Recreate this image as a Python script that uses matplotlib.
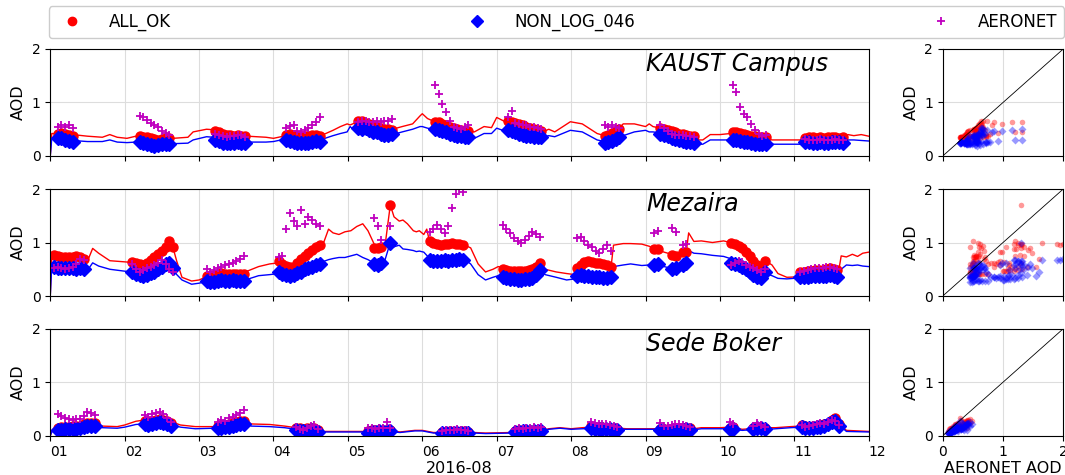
import numpy as np
import matplotlib
matplotlib.use('Agg')
import matplotlib.pyplot as plt
import matplotlib.dates as mdates
from matplotlib.lines import Line2D

# days since 2016-07-31 00:00 (1.0 = Aug 1 00:00)
STEP = 0.05  # spacing of obs within a segment (days)
base = mdates.datestr2num('2016-07-31')

stations = ["KAUST Campus", "Mezaira", "Sede Boker"]

# ---------------- KAUST Campus ----------------
kaust_line_t = [1.00, 1.02, 1.10, 1.30, 1.50, 1.70, 1.80, 1.90, 2.03, 2.15,
                2.30, 2.45, 2.55, 2.65, 2.85, 2.92, 3.10, 3.20, 3.40, 3.65,
                3.90, 4.00, 4.10, 4.40, 4.67, 4.80, 4.90, 4.99, 5.03, 5.10,
                5.30, 5.60, 5.73, 5.87, 5.97, 6.00, 6.07, 6.15, 6.40, 6.70,
                6.83, 6.93, 7.00, 7.10, 7.40, 7.62, 7.70, 7.78, 7.99, 8.15,
                8.35, 8.45, 8.60, 8.70, 8.85, 9.00, 9.05, 9.10, 9.20, 9.45,
                9.68, 9.77, 9.87, 10.00, 10.14, 10.40, 10.70, 11.15, 11.40, 11.65,
                11.72, 11.80, 11.90, 12.00]
kaust_red_line = [0.00, 0.42, 0.42, 0.40, 0.37, 0.35, 0.40, 0.35, 0.33, 0.37,
                  0.35, 0.31, 0.33, 0.33, 0.35, 0.45, 0.50, 0.49, 0.43, 0.37,
                  0.35, 0.33, 0.36, 0.38, 0.40, 0.48, 0.55, 0.60, 0.58, 0.62,
                  0.58, 0.50, 0.55, 0.60, 0.75, 0.79, 0.70, 0.65, 0.55, 0.45,
                  0.55, 0.53, 0.72, 0.65, 0.57, 0.45, 0.50, 0.45, 0.64, 0.60,
                  0.42, 0.38, 0.45, 0.60, 0.60, 0.55, 0.60, 0.55, 0.52, 0.44,
                  0.30, 0.30, 0.40, 0.40, 0.42, 0.38, 0.30, 0.30, 0.31, 0.30,
                  0.40, 0.38, 0.40, 0.37]
kaust_blue_line = [0.00, 0.33, 0.30, 0.29, 0.27, 0.27, 0.30, 0.26, 0.25, 0.26,
                   0.24, 0.22, 0.23, 0.23, 0.24, 0.30, 0.36, 0.35, 0.30, 0.26,
                   0.26, 0.27, 0.30, 0.27, 0.32, 0.38, 0.42, 0.45, 0.55, 0.46,
                   0.46, 0.40, 0.45, 0.50, 0.55, 0.55, 0.52, 0.50, 0.42, 0.33,
                   0.42, 0.42, 0.52, 0.47, 0.40, 0.35, 0.38, 0.36, 0.48, 0.45,
                   0.30, 0.27, 0.33, 0.38, 0.45, 0.48, 0.45, 0.45, 0.43, 0.33,
                   0.22, 0.22, 0.30, 0.30, 0.30, 0.26, 0.22, 0.22, 0.24, 0.23,
                   0.30, 0.30, 0.29, 0.28]
kaust_seg_start = [1.10, 2.20, 3.22, 4.17, 5.14, 6.17, 7.15, 8.45, 9.20, 10.17, 11.15]
kaust_red_obs = [
    [0.42, 0.43, 0.42, 0.40, 0.38],
    [0.37, 0.36, 0.35, 0.33, 0.31, 0.30, 0.32, 0.34, 0.33],
    [0.46, 0.44, 0.42, 0.40, 0.39, 0.38, 0.39, 0.38, 0.37],
    [0.40, 0.41, 0.40, 0.38, 0.37, 0.37, 0.38, 0.39, 0.40, 0.38],
    [0.66, 0.65, 0.62, 0.60, 0.58, 0.55, 0.52, 0.50, 0.50, 0.48],
    [0.64, 0.63, 0.60, 0.57, 0.55, 0.52, 0.50, 0.48, 0.47, 0.47],
    [0.66, 0.64, 0.62, 0.60, 0.57, 0.55, 0.52, 0.50, 0.48, 0.46],
    [0.38, 0.40, 0.43, 0.47, 0.50],
    [0.52, 0.50, 0.48, 0.46, 0.44, 0.42, 0.42, 0.40, 0.38, 0.37],
    [0.45, 0.44, 0.43, 0.42, 0.40, 0.38, 0.37, 0.36, 0.35, 0.35],
    [0.34, 0.35, 0.35, 0.34, 0.35, 0.34, 0.35, 0.36, 0.35, 0.34, 0.35],
]
kaust_blue_obs = [
    [0.33, 0.34, 0.30, 0.28, 0.27],
    [0.27, 0.24, 0.22, 0.20, 0.19, 0.20, 0.22, 0.23, 0.22],
    [0.30, 0.28, 0.25, 0.24, 0.24, 0.25, 0.26, 0.25, 0.24],
    [0.30, 0.28, 0.26, 0.25, 0.24, 0.24, 0.25, 0.26, 0.28, 0.27],
    [0.52, 0.50, 0.52, 0.48, 0.45, 0.45, 0.42, 0.40, 0.40, 0.42],
    [0.50, 0.48, 0.46, 0.44, 0.42, 0.40, 0.38, 0.37, 0.36, 0.36],
    [0.48, 0.46, 0.44, 0.42, 0.40, 0.38, 0.37, 0.36, 0.36, 0.35],
    [0.25, 0.26, 0.28, 0.32, 0.35],
    [0.42, 0.40, 0.37, 0.34, 0.32, 0.30, 0.28, 0.27, 0.26, 0.25],
    [0.30, 0.29, 0.28, 0.27, 0.26, 0.24, 0.23, 0.22, 0.22, 0.22],
    [0.27, 0.26, 0.25, 0.25, 0.26, 0.25, 0.25, 0.26, 0.27, 0.26, 0.25],
]
kaust_aer_obs = [
    [0.55, 0.57, 0.54, 0.58, 0.53],
    [0.75, 0.72, 0.67, 0.62, 0.57, 0.54, 0.46, 0.43, 0.40],
    [0.42, 0.40, 0.38, 0.36, 0.37, 0.38, 0.40, 0.39, 0.36],
    [0.52, 0.56, 0.57, 0.46, 0.45, 0.48, 0.52, 0.57, 0.64, 0.72],
    [0.64, 0.66, 0.65, 0.64, 0.63, 0.66, 0.64, 0.65, 0.66, 0.70],
    [1.32, 1.15, 0.98, 0.82, 0.65, 0.55, 0.52, 0.50, 0.55, 0.58],
    [0.73, 0.85, 0.62, 0.60, 0.58, 0.57, 0.55, 0.55, 0.52, 0.50],
    [0.57, 0.55, 0.57, 0.55, 0.52],
    [0.58, 0.52, 0.46, 0.42, 0.40, 0.40, 0.39, 0.38, 0.37, 0.35],
    [1.32, 1.20, 0.92, 0.78, 0.72, 0.60, 0.48, 0.42, 0.38, 0.40],
    [0.32, 0.30, 0.30, 0.29, 0.31, 0.30, 0.29, 0.30, 0.31, 0.30, 0.29],
]

# ---------------- Mezaira ----------------
mez_line_t = [1.00, 1.02, 1.05, 1.45, 1.52, 1.57, 1.65, 1.80, 2.08, 2.20,
              2.35, 2.50, 2.60, 2.65, 2.70, 2.77, 2.90, 3.00, 3.10, 3.40,
              3.62, 3.80, 3.95, 4.07, 4.25, 4.45, 4.62, 4.68, 4.74, 4.80,
              4.88, 4.96, 5.04, 5.12, 5.20, 5.27, 5.37, 5.45, 5.50, 5.57,
              5.62, 5.69, 5.74, 5.80, 5.88, 5.92, 5.96, 6.02, 6.06, 6.10,
              6.35, 6.57, 6.65, 6.75, 6.85, 6.95, 7.02, 7.30, 7.58, 7.65,
              7.71, 7.80, 7.94, 8.05, 8.30, 8.54, 8.57, 8.70, 8.80, 8.95,
              9.05, 9.12, 9.25, 9.40, 9.50, 9.55, 9.58, 9.65, 9.75, 9.90,
              10.05, 10.14, 10.30, 10.45, 10.55, 10.62, 10.70, 10.78, 10.90, 11.08,
              11.35, 11.60, 11.63, 11.70, 11.78, 11.85, 11.92, 12.00]
mez_red_line = [0.00, 0.81, 0.76, 0.72, 0.72, 0.89, 0.80, 0.66, 0.63, 0.60,
                0.70, 0.85, 1.00, 0.90, 0.65, 0.35, 0.28, 0.30, 0.36, 0.42,
                0.45, 0.55, 0.60, 0.62, 0.55, 0.72, 0.95, 1.02, 1.25, 1.18,
                1.15, 1.20, 1.22, 1.30, 1.35, 1.22, 0.92, 0.90, 0.95, 1.70,
                1.48, 1.40, 1.42, 1.35, 1.22, 1.20, 1.22, 1.15, 1.25, 1.00,
                0.98, 0.95, 0.90, 0.60, 0.45, 0.50, 0.55, 0.48, 0.62, 0.50,
                0.48, 0.45, 0.42, 0.40, 0.62, 0.58, 0.95, 0.98, 0.98, 0.97,
                0.93, 0.88, 0.82, 0.76, 0.83, 0.85, 1.18, 1.02, 1.03, 1.00,
                1.03, 1.00, 0.90, 0.70, 0.58, 0.65, 0.58, 0.42, 0.35, 0.36,
                0.46, 0.50, 0.75, 0.73, 0.78, 0.74, 0.80, 0.82]
mez_blue_line = [0.00, 0.58, 0.55, 0.50, 0.52, 0.62, 0.56, 0.50, 0.45, 0.40,
                 0.43, 0.55, 0.62, 0.50, 0.40, 0.30, 0.22, 0.24, 0.27, 0.28,
                 0.30, 0.38, 0.40, 0.42, 0.40, 0.45, 0.60, 0.65, 0.68, 0.70,
                 0.72, 0.72, 0.75, 0.78, 0.72, 0.68, 0.60, 0.60, 0.68, 1.00,
                 0.92, 0.95, 0.88, 0.87, 0.85, 0.83, 0.84, 0.82, 0.76, 0.70,
                 0.68, 0.68, 0.60, 0.40, 0.30, 0.35, 0.38, 0.32, 0.45, 0.40,
                 0.38, 0.35, 0.30, 0.32, 0.38, 0.36, 0.55, 0.58, 0.60, 0.57,
                 0.58, 0.57, 0.55, 0.50, 0.58, 0.60, 0.85, 0.80, 0.79, 0.76,
                 0.74, 0.70, 0.55, 0.45, 0.38, 0.42, 0.38, 0.33, 0.32, 0.34,
                 0.37, 0.38, 0.50, 0.58, 0.57, 0.58, 0.56, 0.55]
mez_seg_start = [1.05, 2.10, 3.10, 4.07, 5.35, 5.57, 6.10, 7.08, 8.08, 9.12, 9.36, 9.50, 10.15, 11.08]
mez_red_obs = [
    [0.76, 0.74, 0.73, 0.72, 0.72, 0.73, 0.74, 0.72, 0.70],
    [0.63, 0.62, 0.60, 0.58, 0.62, 0.68, 0.72, 0.78, 0.85, 0.92, 1.02, 0.92],
    [0.38, 0.38, 0.40, 0.42, 0.43, 0.42, 0.42, 0.41, 0.42, 0.42, 0.41],
    [0.65, 0.60, 0.56, 0.54, 0.55, 0.62, 0.70, 0.75, 0.80, 0.86, 0.92, 0.96],
    [0.90, 0.90, 0.92],
    [1.70],
    [1.02, 1.00, 0.97, 0.96, 0.97, 0.98, 0.99, 0.98, 0.97, 0.96],
    [0.50, 0.48, 0.47, 0.46, 0.46, 0.47, 0.47, 0.48, 0.50, 0.55, 0.62],
    [0.52, 0.58, 0.63, 0.65, 0.63, 0.62, 0.61, 0.60, 0.58, 0.55],
    [0.88, 0.88],
    [0.76, 0.75],
    [0.82, 0.83],
    [1.00, 0.98, 0.94, 0.90, 0.82, 0.75, 0.65, 0.58, 0.55, 0.66],
    [0.45, 0.45, 0.46, 0.47, 0.48, 0.48, 0.49, 0.50, 0.52, 0.50, 0.48],
]
mez_blue_obs = [
    [0.55, 0.53, 0.52, 0.52, 0.53, 0.52, 0.50, 0.53, 0.50],
    [0.45, 0.42, 0.40, 0.38, 0.40, 0.43, 0.45, 0.50, 0.55, 0.60, 0.62, 0.52],
    [0.28, 0.27, 0.27, 0.29, 0.30, 0.29, 0.28, 0.30, 0.29, 0.28, 0.29],
    [0.45, 0.42, 0.40, 0.38, 0.40, 0.43, 0.45, 0.50, 0.52, 0.55, 0.58, 0.60],
    [0.60, 0.58, 0.62],
    [1.00],
    [0.68, 0.66, 0.65, 0.66, 0.67, 0.66, 0.67, 0.68, 0.70, 0.67],
    [0.36, 0.34, 0.32, 0.31, 0.30, 0.30, 0.31, 0.32, 0.34, 0.40, 0.48],
    [0.38, 0.40, 0.38, 0.37, 0.36, 0.36, 0.35, 0.34, 0.33, 0.35],
    [0.58, 0.59],
    [0.50, 0.52],
    [0.58, 0.62],
    [0.62, 0.60, 0.58, 0.55, 0.50, 0.45, 0.40, 0.35, 0.33, 0.45],
    [0.35, 0.36, 0.36, 0.37, 0.37, 0.38, 0.38, 0.38, 0.40, 0.38, 0.36],
]
mez_aer_obs = [
    [0.52, 0.55, 0.52, 0.50, 0.53, 0.55, 0.60, 0.70, 0.68],
    [0.60, 0.50, 0.45, 0.48, 0.52, 0.55, 0.58, 0.62, 0.68, 0.60, 0.50, 0.45],
    [0.50, 0.45, 0.48, 0.52, 0.55, 0.58, 0.60, 0.62, 0.65, 0.70, 0.75],
    [0.72, 0.75, 1.25, 1.55, 1.40, 1.30, 1.60, 1.35, 1.48, 1.42, 1.35, 1.30],
    [1.45, 1.30, 1.05],
    [1.30],
    [1.20, 1.25, 1.32, 1.25, 1.18, 1.30, 1.65, 1.90, 2.00, 1.95],
    [1.32, 1.25, 1.18, 1.08, 1.02, 1.00, 1.05, 1.12, 1.20, 1.15, 1.10],
    [1.08, 1.10, 1.02, 0.95, 0.92, 0.85, 0.80, 0.88, 0.95, 0.85],
    [1.18, 1.22],
    [1.28, 1.20],
    [0.95, 0.98],
    [0.58, 0.62, 0.66, 0.64, 0.58, 0.55, 0.52, 0.48, 0.45, 0.50],
    [0.45, 0.46, 0.48, 0.50, 0.52, 0.52, 0.53, 0.55, 0.54, 0.52, 0.50],
]

# ---------------- Sede Boker ----------------
sede_line_t = [1.00, 1.03, 1.10, 1.40, 1.60, 1.70, 1.90, 2.00, 2.15, 2.25,
               2.45, 2.65, 2.75, 2.95, 3.20, 3.45, 3.65, 3.70, 3.95, 4.15,
               4.30, 4.55, 4.65, 5.00, 5.25, 5.55, 5.70, 5.90, 6.00, 6.15,
               6.45, 6.70, 6.85, 7.20, 7.45, 7.62, 7.70, 7.85, 8.00, 8.15,
               8.40, 8.65, 8.75, 9.10, 9.40, 9.65, 9.75, 10.00, 10.15, 10.30,
               10.50, 10.65, 10.75, 10.95, 11.08, 11.30, 11.45, 11.52, 11.62, 11.70,
               12.00]
sede_red_line = [0.00, 0.12, 0.14, 0.18, 0.24, 0.18, 0.17, 0.20, 0.27, 0.29,
                 0.30, 0.25, 0.20, 0.17, 0.17, 0.22, 0.27, 0.22, 0.21, 0.18,
                 0.15, 0.14, 0.08, 0.08, 0.08, 0.10, 0.07, 0.10, 0.10, 0.06,
                 0.06, 0.06, 0.05, 0.06, 0.08, 0.10, 0.13, 0.15, 0.13, 0.15,
                 0.17, 0.14, 0.13, 0.13, 0.14, 0.13, 0.15, 0.15, 0.16, 0.12,
                 0.14, 0.15, 0.15, 0.17, 0.18, 0.20, 0.22, 0.33, 0.20, 0.10,
                 0.08]
sede_blue_line = [0.00, 0.10, 0.11, 0.14, 0.19, 0.15, 0.14, 0.16, 0.21, 0.22,
                  0.24, 0.20, 0.16, 0.13, 0.14, 0.18, 0.22, 0.18, 0.17, 0.15,
                  0.12, 0.10, 0.07, 0.07, 0.07, 0.08, 0.06, 0.09, 0.09, 0.05,
                  0.05, 0.05, 0.04, 0.05, 0.07, 0.09, 0.12, 0.14, 0.12, 0.13,
                  0.14, 0.12, 0.12, 0.12, 0.11, 0.11, 0.13, 0.13, 0.13, 0.10,
                  0.12, 0.12, 0.13, 0.15, 0.16, 0.17, 0.19, 0.28, 0.18, 0.08,
                  0.07]
sede_seg_start = [1.10, 2.27, 3.25, 4.30, 5.27, 6.27, 7.25, 8.27, 9.20, 10.13, 10.45, 11.10]
sede_red_obs = [
    [0.15, 0.16, 0.17, 0.17, 0.18, 0.18, 0.19, 0.21, 0.23, 0.24, 0.24],
    [0.28, 0.26, 0.28, 0.30, 0.32, 0.30, 0.27, 0.24],
    [0.18, 0.19, 0.20, 0.22, 0.23, 0.25, 0.27, 0.28],
    [0.15, 0.14, 0.13, 0.14, 0.15, 0.14, 0.10],
    [0.09, 0.10, 0.10, 0.11, 0.10, 0.11, 0.10],
    [0.07, 0.07, 0.08, 0.07, 0.07, 0.08, 0.08, 0.07],
    [0.09, 0.10, 0.10, 0.11, 0.10, 0.11, 0.11, 0.10],
    [0.18, 0.17, 0.16, 0.16, 0.15, 0.15, 0.14, 0.13],
    [0.13, 0.12, 0.12, 0.13, 0.13, 0.14, 0.14, 0.15, 0.14],
    [0.15, 0.16],
    [0.14, 0.16, 0.17, 0.15],
    [0.20, 0.18, 0.17, 0.18, 0.19, 0.20, 0.21, 0.24, 0.30, 0.33, 0.22],
]
sede_blue_obs = [
    [0.10, 0.11, 0.12, 0.12, 0.13, 0.13, 0.14, 0.16, 0.18, 0.19, 0.18],
    [0.22, 0.20, 0.22, 0.24, 0.26, 0.24, 0.21, 0.18],
    [0.14, 0.15, 0.16, 0.17, 0.18, 0.20, 0.22, 0.22],
    [0.10, 0.09, 0.08, 0.09, 0.10, 0.09, 0.07],
    [0.06, 0.07, 0.07, 0.08, 0.07, 0.08, 0.08],
    [0.05, 0.05, 0.06, 0.05, 0.05, 0.06, 0.06, 0.05],
    [0.07, 0.07, 0.08, 0.08, 0.07, 0.08, 0.09, 0.08],
    [0.14, 0.13, 0.13, 0.12, 0.12, 0.12, 0.11, 0.11],
    [0.10, 0.09, 0.09, 0.10, 0.10, 0.11, 0.11, 0.12, 0.11],
    [0.13, 0.13],
    [0.12, 0.14, 0.14, 0.12],
    [0.17, 0.15, 0.14, 0.15, 0.16, 0.17, 0.18, 0.21, 0.26, 0.28, 0.18],
]
sede_aer_obs = [
    [0.40, 0.36, 0.33, 0.31, 0.30, 0.31, 0.32, 0.36, 0.45, 0.42, 0.39],
    [0.38, 0.35, 0.40, 0.42, 0.45, 0.40, 0.34, 0.26],
    [0.26, 0.30, 0.28, 0.33, 0.35, 0.38, 0.42, 0.48],
    [0.16, 0.12, 0.10, 0.14, 0.18, 0.20, 0.12],
    [0.15, 0.14, 0.13, 0.15, 0.14, 0.26, 0.15],
    [0.09, 0.10, 0.11, 0.10, 0.12, 0.11, 0.10, 0.09],
    [0.12, 0.14, 0.13, 0.15, 0.14, 0.16, 0.15, 0.17],
    [0.26, 0.24, 0.22, 0.22, 0.21, 0.20, 0.18, 0.16],
    [0.24, 0.18, 0.19, 0.20, 0.21, 0.22, 0.20, 0.19, 0.16],
    [0.25, 0.22],
    [0.18, 0.24, 0.20, 0.16],
    [0.20, 0.17, 0.18, 0.20, 0.22, 0.24, 0.22, 0.25, 0.30, 0.28, 0.20],
]

station_data = [
    (kaust_line_t, kaust_red_line, kaust_blue_line, kaust_seg_start, kaust_red_obs, kaust_blue_obs, kaust_aer_obs),
    (mez_line_t, mez_red_line, mez_blue_line, mez_seg_start, mez_red_obs, mez_blue_obs, mez_aer_obs),
    (sede_line_t, sede_red_line, sede_blue_line, sede_seg_start, sede_red_obs, sede_blue_obs, sede_aer_obs),
]


def seg_times(starts, segs):
    return np.concatenate([s + STEP * np.arange(len(v)) for s, v in zip(starts, segs)])


def flat(segs):
    return np.concatenate([np.asarray(v, dtype=float) for v in segs])


fig = plt.figure(figsize=(10.65, 4.75), dpi=100)

bottoms = [0.6716, 0.3768, 0.0827]
height = 0.2253
grid_kw = dict(color='#dddddd', lw=0.8)

for i, (name, d) in enumerate(zip(stations, station_data)):
    line_t, red_line, blue_line, starts, red_obs, blue_obs, aer_obs = d
    t = base + seg_times(starts, red_obs)
    red = flat(red_obs)
    blue = flat(blue_obs)
    aer = flat(aer_obs)

    ax = fig.add_axes([0.0472, bottoms[i], 0.7685, height])
    ax.plot(base + np.asarray(line_t), red_line, color='red', lw=1)
    ax.plot(base + np.asarray(line_t), blue_line, color='blue', lw=1)
    ax.plot(t, red, 'o', color='red', ms=6.5, ls='none')
    ax.plot(t, blue, 'D', color='blue', ms=7, ls='none')
    ax.plot(t, aer, '+', color='m', ms=6, mew=1.3, ls='none')
    ax.set_xlim(base + 1, base + 12)
    ax.set_ylim(0, 2)
    ax.set_yticks([0, 1, 2])
    ax.xaxis.set_major_locator(mdates.DayLocator())
    ax.xaxis.set_major_formatter(mdates.DateFormatter('%d'))
    ax.grid(True, **grid_kw)
    ax.set_axisbelow(True)
    ax.tick_params(labelsize=10)
    ax.set_ylabel('AOD', fontsize=11.5)
    ax.text(0.728, 0.79, name, transform=ax.transAxes, fontsize=17,
            style='italic', ha='left', va='baseline')
    if i < 2:
        ax.set_xticklabels([])
    else:
        for lab in ax.get_xticklabels():
            lab.set_ha('left')
        ax.set_xlabel('2016-08', fontsize=11.5, labelpad=1)

    sax = fig.add_axes([0.8852, bottoms[i], 0.1132, height])
    sax.plot(aer, red, 'o', color='red', alpha=0.4, ms=4, mec='none', ls='none')
    sax.plot(aer, blue, 'D', color='blue', alpha=0.4, ms=4, mec='none', ls='none')
    sax.plot([0, 2], [0, 2], color='black', lw=0.6)
    sax.set_xlim(0, 2)
    sax.set_ylim(0, 2)
    sax.set_xticks([0, 1, 2])
    sax.set_yticks([0, 1, 2])
    sax.grid(True, **grid_kw)
    sax.set_axisbelow(True)
    sax.tick_params(labelsize=10)
    sax.set_ylabel('AOD', fontsize=11.5)
    if i < 2:
        sax.set_xticklabels([])
    else:
        sax.set_xlabel('AERONET AOD', fontsize=11.5, labelpad=1)

handles = [
    Line2D([], [], marker='o', color='red', ls='none', ms=6),
    Line2D([], [], marker='D', color='blue', ls='none', ms=6),
    Line2D([], [], marker='+', color='m', ls='none', ms=6, mew=1.3),
]
fig.legend(handles, ['ALL_OK', 'NON_LOG_046', 'AERONET'], ncol=3, mode='expand',
           loc='lower left', bbox_to_anchor=(0.046, 0.92, 0.953, 0.063),
           fontsize=12, handletextpad=1.2, borderaxespad=0, framealpha=1,
           edgecolor='#cccccc')

fig.savefig('out.png', dpi=100)
